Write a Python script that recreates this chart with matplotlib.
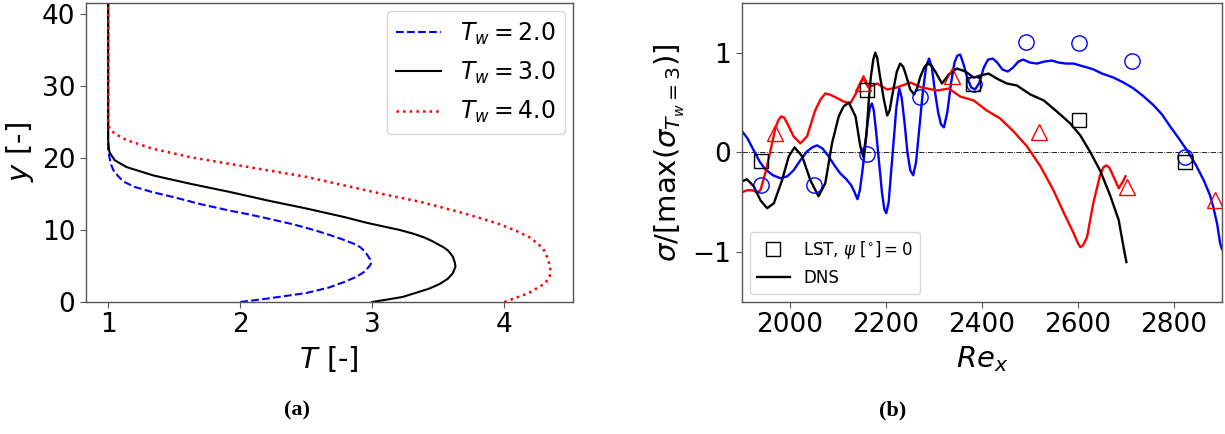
import matplotlib
matplotlib.use('Agg')
import matplotlib.pyplot as plt

# (a) temperature profiles, y vs T
y_tw2 = [0, 0.46, 1.25, 2.0, 2.8, 3.5, 4.2, 4.8, 5.3, 5.9, 6.6, 7.1, 7.6, 8.1, 8.6, 9.3, 10.0, 10.8,
         11.6, 12.2, 12.7, 13.6, 14.6, 15.3, 16.0, 16.7, 17.4, 18.3, 19.2, 20.1, 21.0, 25, 30, 35, 41.6]
t_tw2 = [2.0, 2.2, 2.5, 2.67, 2.79, 2.88, 2.94, 2.97, 2.99, 2.985, 2.96, 2.94, 2.91, 2.86, 2.79, 2.68, 2.56, 2.40,
         2.21, 2.06, 1.92, 1.70, 1.49, 1.33, 1.20, 1.12, 1.08, 1.04, 1.02, 1.01, 1.0, 1.0, 1.0, 1.0, 1.0]

y_tw3 = [0, 0.7, 1.85, 2.5, 3.2, 4.0, 4.9, 5.5, 6.3, 6.8, 7.2, 7.6, 8.0, 8.5, 9.0, 9.5, 10.0, 10.4, 11.0, 11.8,
         13.0, 14.1, 15.3, 16.4, 17.6, 18.75, 19.7, 20.8, 21.5, 22.5, 25, 30, 35, 41.6]
t_tw3 = [3.0, 3.23, 3.43, 3.51, 3.57, 3.61, 3.63, 3.625, 3.61, 3.59, 3.57, 3.54, 3.50, 3.45, 3.39, 3.31, 3.21, 3.11, 2.96, 2.79,
         2.50, 2.21, 1.92, 1.63, 1.34, 1.14, 1.05, 1.01, 1.005, 1.0, 1.0, 1.0, 1.0, 1.0]

y_tw4 = [0, 1.2, 2.5, 3.3, 4.2, 5.0, 6.0, 7.2, 8.0, 9.0, 9.9, 10.9, 11.7, 12.5, 13.9, 15.0, 16.2, 17.4,
         18.3, 19.2, 20.1, 21.3, 22.5, 23.4, 24.1, 25.2, 30, 35, 41.6]
t_tw4 = [4.0, 4.18, 4.30, 4.34, 4.35, 4.345, 4.33, 4.30, 4.26, 4.19, 4.09, 3.95, 3.81, 3.66, 3.37, 3.08, 2.79, 2.50,
         2.21, 1.92, 1.63, 1.34, 1.14, 1.05, 1.01, 1.0, 1.0, 1.0, 1.0]

# (b) normalised growth rate vs Re_x
re_blue = [1901, 1912, 1925, 1937, 1949, 1965, 1981, 1995, 2008, 2022, 2036, 2047, 2057, 2068, 2081,
           2093, 2105, 2118, 2128, 2135, 2141, 2146, 2151, 2157, 2162, 2167, 2171, 2175, 2180, 2186,
           2192, 2197, 2201, 2206, 2211, 2217, 2222, 2228, 2233, 2239, 2245, 2251, 2257, 2263, 2270,
           2277, 2284, 2290, 2296, 2302, 2309, 2315, 2321, 2328, 2336, 2343, 2349, 2355, 2362, 2370,
           2378, 2386, 2395, 2404, 2413, 2423, 2432, 2443, 2454, 2465, 2476, 2486, 2500, 2515, 2530,
           2546, 2560, 2575, 2591, 2605, 2620, 2633, 2650, 2674, 2695, 2716, 2737, 2758, 2775, 2792,
           2810, 2830, 2846, 2862, 2875, 2882, 2890, 2896, 2900]
s_blue = [0.21, 0.14, 0.02, -0.09, -0.17, -0.23, -0.26, -0.24, -0.18, -0.08, 0.01, 0.05, 0.07, 0.04, -0.04,
          -0.13, -0.21, -0.27, -0.33, -0.40, -0.47, -0.38, -0.20, 0.05, 0.30, 0.45, 0.49, 0.42, 0.20, -0.10,
          -0.40, -0.57, -0.61, -0.50, -0.20, 0.15, 0.45, 0.64, 0.55, 0.30, 0.00, -0.18, -0.23, -0.10, 0.25,
          0.60, 0.86, 0.94, 0.85, 0.62, 0.40, 0.28, 0.25, 0.40, 0.70, 0.90, 0.97, 0.98, 0.88, 0.74,
          0.65, 0.63, 0.70, 0.85, 0.93, 0.94, 0.90, 0.83, 0.81, 0.85, 0.91, 0.93, 0.90, 0.89, 0.91,
          0.92, 0.90, 0.89, 0.89, 0.87, 0.85, 0.83, 0.79, 0.75, 0.70, 0.64, 0.56, 0.47, 0.38, 0.26,
          0.14, 0.00, -0.13, -0.28, -0.43, -0.55, -0.72, -0.91, -0.97]

re_black = [1901, 1911, 1925, 1939, 1953, 1967, 1984, 1998, 2010, 2026, 2043, 2060, 2074, 2088, 2102,
            2112, 2123, 2137, 2147, 2153, 2160, 2165, 2169, 2174, 2178, 2182, 2187, 2196, 2203, 2208,
            2213, 2223, 2230, 2236, 2241, 2251, 2259, 2265, 2272, 2280, 2287, 2295, 2303, 2317, 2331,
            2348, 2366, 2383, 2397, 2414, 2431, 2452, 2473, 2501, 2529, 2556, 2584, 2605, 2626, 2647,
            2667, 2685, 2695, 2701]
s_black = [-0.29, -0.27, -0.34, -0.48, -0.56, -0.51, -0.28, -0.04, 0.05, -0.04, -0.28, -0.44, -0.31, 0.09, 0.36,
           0.46, 0.50, 0.36, 0.06, -0.04, 0.19, 0.55, 0.76, 0.93, 1.0, 0.95, 0.79, 0.53, 0.37, 0.42,
           0.56, 0.81, 0.89, 0.86, 0.79, 0.63, 0.58, 0.64, 0.76, 0.85, 0.89, 0.87, 0.81, 0.69, 0.78,
           0.84, 0.81, 0.75, 0.77, 0.79, 0.74, 0.69, 0.67, 0.58, 0.52, 0.41, 0.29, 0.17, 0.0, -0.19,
           -0.43, -0.68, -0.95, -1.10]

re_red = [1901, 1911, 1922, 1932, 1939, 1949, 1960, 1970, 1976, 1982, 1988, 1995, 2008, 2022, 2036,
          2053, 2064, 2074, 2083, 2092, 2112, 2126, 2140, 2148, 2153, 2158, 2164, 2182, 2203, 2223,
          2251, 2275, 2307, 2331, 2355, 2383, 2410, 2438, 2466, 2494, 2522, 2549, 2573, 2591, 2600,
          2605, 2611, 2619, 2632, 2646, 2653, 2659, 2665, 2671, 2685, 2694, 2699]
s_red = [-0.40, -0.38, -0.38, -0.40, -0.38, -0.21, 0.02, 0.24, 0.32, 0.36, 0.35, 0.29, 0.16, 0.09, 0.16,
         0.42, 0.53, 0.59, 0.58, 0.56, 0.51, 0.49, 0.61, 0.70, 0.74, 0.70, 0.65, 0.69, 0.63, 0.65,
         0.70, 0.65, 0.62, 0.64, 0.56, 0.52, 0.42, 0.34, 0.21, 0.06, -0.14, -0.38, -0.63, -0.81, -0.91,
         -0.95, -0.93, -0.85, -0.51, -0.23, -0.15, -0.13, -0.15, -0.21, -0.36, -0.29, -0.24]

# LST points
re_circ = [1940, 2051, 2161, 2272, 2383, 2492, 2602, 2712, 2822]
s_circ = [-0.33, -0.33, -0.02, 0.55, 0.69, 1.11, 1.10, 0.92, -0.05]
re_sq = [1940, 2161, 2381, 2602, 2822]
s_sq = [-0.09, 0.62, 0.69, 0.32, -0.10]
re_tri = [1970, 2153, 2337, 2520, 2703, 2886]
s_tri = [0.19, 0.70, 0.77, 0.20, -0.35, -0.48]

W, H = 1225, 434
fig = plt.figure(figsize=(W / 100, H / 100), dpi=100)
ax1 = fig.add_axes([85.7 / W, 132 / H, 487.3 / W, 299.3 / H])
ax2 = fig.add_axes([741.7 / W, 132 / H, 480.3 / W, 299.3 / H])

for ax in (ax1, ax2):
    for sp in ax.spines.values():
        sp.set_color('#555555')
        sp.set_linewidth(1.0)
    ax.tick_params(colors='#555555', labelcolor='k', labelsize=19, length=4)

ax1.plot(t_tw2, y_tw2, 'b--', lw=1.5, label=r'$T_w = 2.0$')
ax1.plot(t_tw3, y_tw3, 'k-', lw=1.5, label=r'$T_w = 3.0$')
ax1.plot(t_tw4, y_tw4, 'r:', lw=1.8, label=r'$T_w = 4.0$')
ax1.set_xlim(0.83, 4.52)
ax1.set_ylim(0, 41.6)
ax1.set_xticks([1, 2, 3, 4])
ax1.set_yticks([0, 10, 20, 30, 40])
ax1.set_xlabel(r'$T$ [-]', fontsize=21)
ax1.set_ylabel(r'$y$ [-]', fontsize=21)
ax1.legend(loc='upper right', fontsize=17, handlelength=1.9, labelspacing=0.55,
           borderaxespad=0.35)

ax2.axhline(0, color='k', ls='-.', lw=0.6)
ax2.plot(re_blue, s_blue, color='b', lw=1.7)
ax2.plot(re_red, s_red, color='r', lw=1.7)
ax2.plot(re_black, s_black, color='k', lw=1.7, label='DNS')
ax2.plot(re_circ, s_circ, 'o', color='b', mfc='none', ms=11, mew=1.0)
ax2.plot(re_tri, s_tri, '^', color='r', mfc='none', ms=11, mew=1.0)
ax2.plot(re_sq, s_sq, 's', color='k', mfc='none', ms=10, mew=1.0,
         label=r'LST, $\psi$ [$^{\circ}$]$ = 0$')
ax2.set_xlim(1900, 2900)
ax2.set_ylim(-1.5, 1.5)
ax2.set_xticks([2000, 2200, 2400, 2600, 2800])
ax2.set_yticks([-1, 0, 1])
ax2.set_xlabel(r'$Re_x$', fontsize=21)
ax2.set_ylabel(r'$\sigma/[\max(\sigma_{T_w=3})]$', fontsize=21)
h, l = ax2.get_legend_handles_labels()
ax2.legend(h[::-1], l[::-1], loc='lower left', fontsize=12)

fig.text(297 / W, 1 - 410 / H, '(a)', ha='center', va='center',
         family='Liberation Serif', weight='bold', fontsize=16)
fig.text(893 / W, 1 - 410 / H, '(b)', ha='center', va='center',
         family='Liberation Serif', weight='bold', fontsize=16)

fig.savefig('out.png', dpi=100)
